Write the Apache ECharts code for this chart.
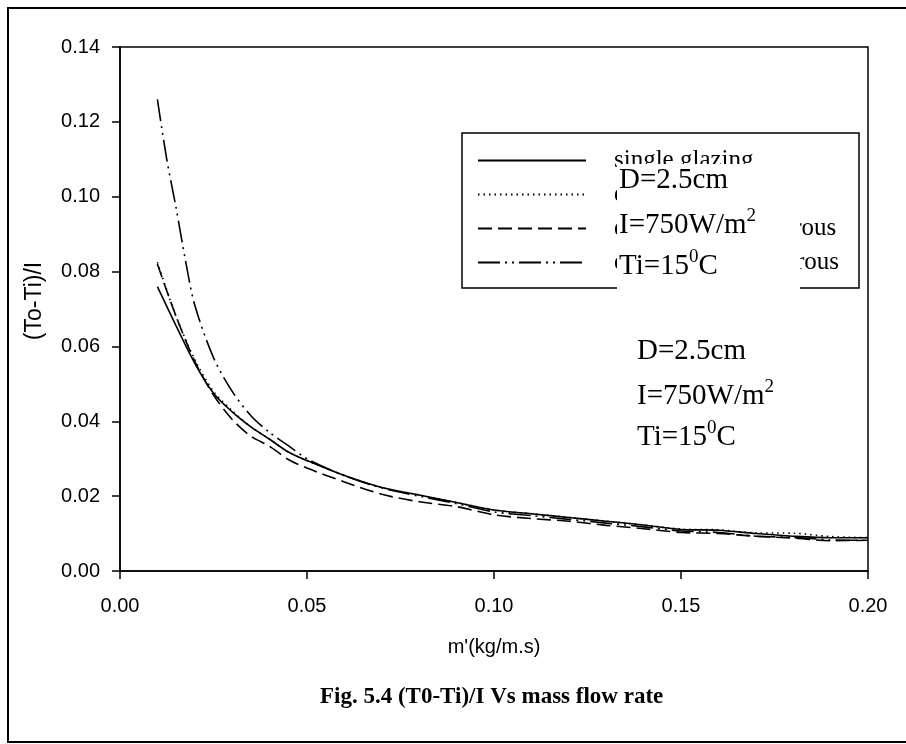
<!DOCTYPE html>
<html>
<head>
<meta charset="utf-8">
<script src="https://cdn.jsdelivr.net/npm/echarts@6/dist/echarts.min.js"></script>
<style>
  html, body { margin: 0; padding: 0; background: #fff; }
  #main { width: 906px; height: 744px; }
</style>
</head>
<body>
<div id="main"></div>
<script>
// mass flow rate (kg/m.s)
var flowX = [0.01, 0.015, 0.02, 0.025, 0.03, 0.035, 0.04, 0.045, 0.05, 0.06, 0.07, 0.08, 0.09, 0.10,
             0.11, 0.12, 0.13, 0.14, 0.15, 0.16, 0.17, 0.18, 0.19, 0.20];
var flowX2 = [0.01, 0.0125, 0.015, 0.0175, 0.02, 0.025, 0.03, 0.035, 0.04, 0.045, 0.05, 0.06, 0.07,
              0.08, 0.09, 0.10, 0.11, 0.12, 0.13, 0.14, 0.15, 0.16, 0.17, 0.18, 0.19, 0.20];

// (To-Ti)/I
var singleGlazing = [0.076, 0.0655, 0.0555, 0.0475, 0.0425, 0.0385, 0.0352, 0.0318, 0.0295, 0.0255, 0.0223,
                     0.0203, 0.0183, 0.0163, 0.0153, 0.0143, 0.0133, 0.0123, 0.0111, 0.0109, 0.0100, 0.0093, 0.0089, 0.0089];
var doubleGlazing = [0.0825, 0.068, 0.0565, 0.048, 0.0428, 0.0385, 0.0352, 0.0318, 0.0295, 0.0255, 0.0223,
                     0.0203, 0.0183, 0.0163, 0.0153, 0.0143, 0.0133, 0.0123, 0.0112, 0.0110, 0.0102, 0.0101, 0.0092, 0.0089];
var doublePorous = [0.082, 0.068, 0.056, 0.047, 0.0405, 0.036, 0.0333, 0.0298, 0.0275, 0.0238, 0.0205,
                    0.0185, 0.0172, 0.0150, 0.0140, 0.0133, 0.0122, 0.0113, 0.0103, 0.0100, 0.0093, 0.0088, 0.0081, 0.0082];
var doubleFibrous = [0.126, 0.110, 0.097, 0.083, 0.071, 0.057, 0.048, 0.0415, 0.037, 0.0335, 0.030, 0.0255, 0.0222,
                     0.0200, 0.0180, 0.0158, 0.0148, 0.0138, 0.0128, 0.0118, 0.0107, 0.0103, 0.0093, 0.0090, 0.0083, 0.0082];

var names = ['single glazing', 'double glazing', 'double glazing porous', 'double glazing fibrous'];

function pairs(xs, ys) {
    return xs.map(function (x, i) { return [x, ys[i]]; });
}

var myChart = echarts.init(document.getElementById('main'));

var serif = '"Liberation Serif", "Times New Roman", serif';
var sans = '"Liberation Sans", Arial, sans-serif';

function line(name, xs, ys, dash) {
    return {
        name: name,
        type: 'line',
        data: pairs(xs, ys),
        smooth: 0.3,
        symbol: 'none',
        lineStyle: { color: '#000', width: 1.6, type: dash }
    };
}

// D, I, Ti annotation (shown twice in the original)
var paramText = function (x, y) {
    var rich = {
        n: { fontFamily: serif, fontSize: 29, color: '#000', lineHeight: 36 },
        s: { fontFamily: serif, fontSize: 19, color: '#000', lineHeight: 36, verticalAlign: 'top', padding: [0, 0, 14, 0] }
    };
    return [
        { type: 'text', left: x, top: y, z: 101, style: { text: '{n|D=2.5cm}', rich: rich } },
        { type: 'text', left: x, top: y + 41, z: 101, style: { text: '{n|I=750W/m}{s|2}', rich: rich } },
        { type: 'text', left: x, top: y + 82, z: 101, style: { text: '{n|Ti=15}{s|0}{n|C}', rich: rich } }
    ];
};

option = {
    backgroundColor: '#fff',
    animation: false,
    grid: {
        left: 120, right: 38, top: 47, bottom: 173,
        show: true, borderColor: '#000', borderWidth: 1.5
    },
    legend: {
        orient: 'vertical',
        left: 477,
        top: 148,
        padding: 0,
        itemWidth: 108,
        itemHeight: 14,
        itemGap: 9,
        selectedMode: false,
        itemStyle: { opacity: 0 },
        data: names,
        textStyle: { fontFamily: serif, fontSize: 25, color: '#000', padding: [0, 0, 0, 23] }
    },
    xAxis: {
        type: 'value',
        min: 0, max: 0.2, interval: 0.05,
        name: "m'(kg/m.s)",
        nameLocation: 'middle',
        nameGap: 66,
        nameTextStyle: { fontFamily: sans, fontSize: 20, color: '#000' },
        axisLine: { lineStyle: { color: '#000', width: 1.5 } },
        axisTick: { length: 8, lineStyle: { color: '#000', width: 1.5 } },
        axisLabel: { margin: 25, fontFamily: sans, fontSize: 20, color: '#000',
            formatter: function (v) { return v.toFixed(2); } },
        splitLine: { show: false }
    },
    yAxis: {
        type: 'value',
        min: 0, max: 0.14, interval: 0.02,
        name: '(To-Ti)/I',
        nameLocation: 'middle',
        nameGap: 74,
        nameTextStyle: { fontFamily: sans, fontSize: 23, color: '#000', padding: [0, 0, 0, 16] },
        axisLine: { lineStyle: { color: '#000', width: 1.5 } },
        axisTick: { length: 8, lineStyle: { color: '#000', width: 1.5 } },
        axisLabel: { margin: 20, fontFamily: sans, fontSize: 20, color: '#000',
            formatter: function (v) { return v.toFixed(2); } },
        splitLine: { show: false }
    },
    graphic: [
        { type: 'rect', z: 0, shape: { x: 8, y: 8, width: 920, height: 734 },
          style: { fill: 'none', stroke: '#000', lineWidth: 2 } },
        { type: 'rect', z: 1, shape: { x: 462, y: 133, width: 397, height: 155 },
          style: { fill: 'none', stroke: '#000', lineWidth: 1.5 } },
        { type: 'rect', z: 100, shape: { x: 617, y: 164, width: 183, height: 130 },
          style: { fill: '#fff', stroke: null } },
        { type: 'text', left: 320, top: 686, z: 5,
          style: { text: 'Fig. 5.4 (T0-Ti)/I Vs mass flow rate', fontFamily: serif, fontWeight: 'bold', fontSize: 23, fill: '#000' } }
    ].concat(paramText(619, 166)).concat(paramText(637, 337)),
    series: [
        line(names[0], flowX, singleGlazing, 'solid'),
        line(names[1], flowX, doubleGlazing, [1.5, 4]),
        line(names[2], flowX, doublePorous, [14, 6]),
        line(names[3], flowX2, doubleFibrous, [22, 5, 2, 5, 2, 5])
    ]
};

myChart.setOption(option);
</script>
</body>
</html>
